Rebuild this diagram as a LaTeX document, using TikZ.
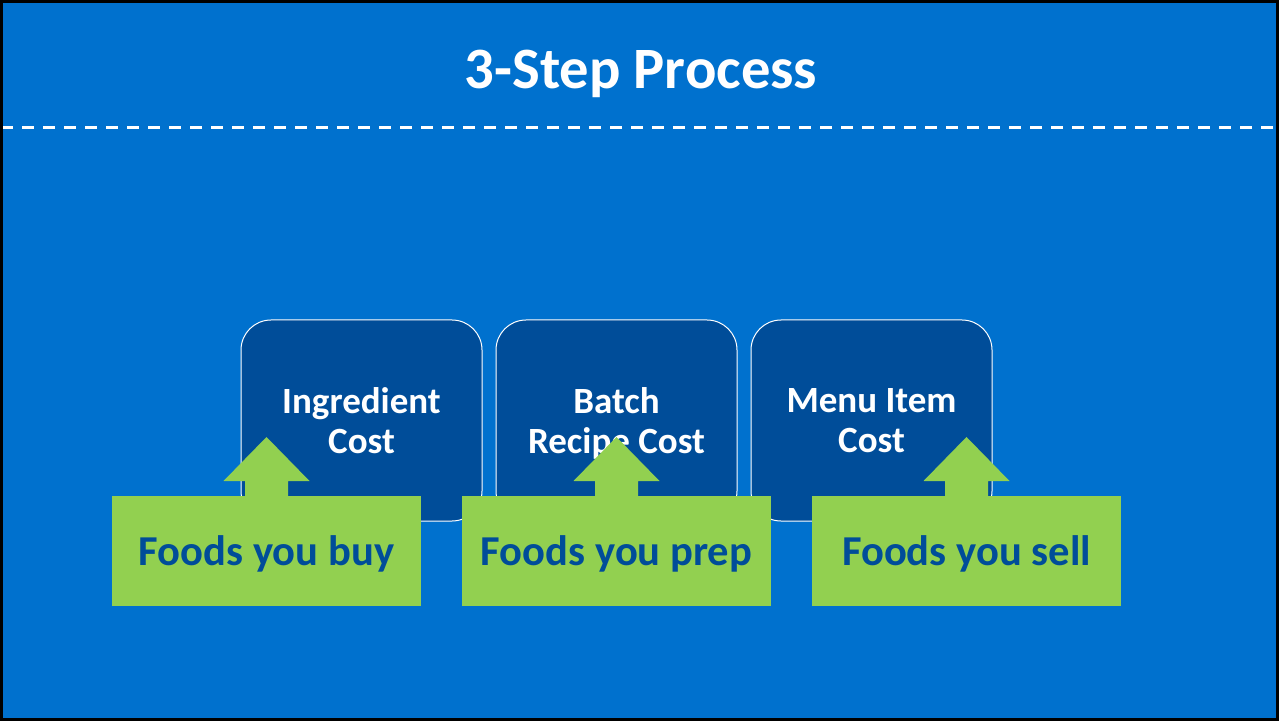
\documentclass[tikz,border=0pt]{standalone}
\usepackage{fontspec}
\setmainfont{Carlito}
\usepackage{xcolor}
\usepackage{tikz}
\usetikzlibrary{positioning}

\definecolor{slideblue}{RGB}{0,113,206}
\definecolor{boxblue}{RGB}{0,77,153}
\definecolor{foodgreen}{RGB}{146,208,80}

\begin{document}
\begin{tikzpicture}[x=1pt, y=1pt,
        stepbox/.style={draw=white, line width=1pt, fill=boxblue, rounded corners=30pt,
            minimum width=241pt, minimum height=201pt, inner sep=0pt, outer sep=0pt,
            text depth=0pt, align=center, text=white,
            font=\bfseries\fontsize{37}{40}\selectfont},
        foodbox/.style={fill=foodgreen, minimum width=309pt, minimum height=110pt,
            inner sep=0pt, outer sep=0pt, text height=30pt, text depth=0.5pt, text=boxblue,
            font=\bfseries\fontsize{42.6}{46}\selectfont}]
            \useasboundingbox (0, 0) rectangle (1279, 721);
            \fill[slideblue] (0, 0) rectangle (1279, 721);

            \node[anchor=base, text=white, font=\bfseries\fontsize{58.6}{64}\selectfont]
                (title) at (641, 632) {3-Step Process};
            \draw[white, line width=3pt, dash pattern=on 12pt off 9pt] (1, 593) -- (1277, 593);

            \node[stepbox] (s1) at (361.5, 300.5) {Ingredient\\Cost};
            \node[stepbox, right=14pt of s1] (s2) {Batch\\Recipe Cost};
            \node[stepbox, right=14pt of s2] (s3) {Menu Item\\Cost};

            \node[foodbox] (f2) at (616.5, 170) {Foods you prep};
            \node[foodbox, left=41pt of f2] (f1) {Foods you buy};
            \node[foodbox, right=41pt of f2] (f3) {Foods you sell};

            \foreach \i in {1, 2, 3} {
                \fill[foodgreen] (f\i.north) ++(-21.5, -1) -- ++(0, 16) -- ++(-21.5, 0)
                    -- ++(43, 44) -- ++(43, -44) -- ++(-21.5, 0) -- ++(0, -16) -- cycle;
            }

            \draw[black, line width=3pt] (1.5, 1.5) rectangle (1277.5, 719.5);
        \end{tikzpicture}
\end{document}
